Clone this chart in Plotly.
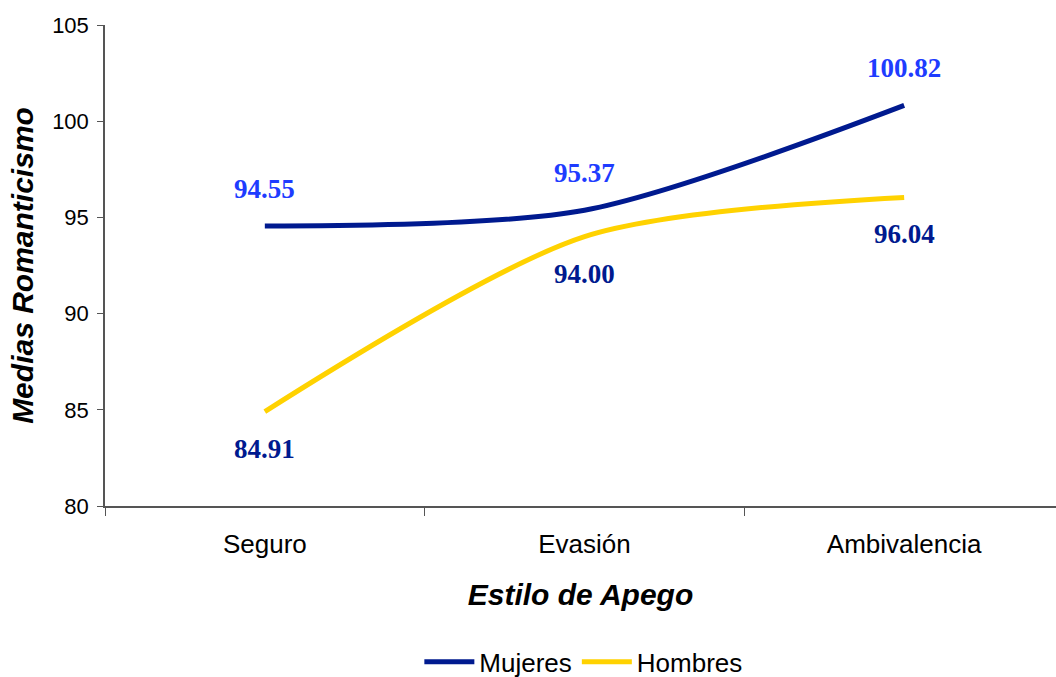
import plotly.graph_objects as go

categories = ["Seguro", "Evasión", "Ambivalencia"]
mujeres = [94.55, 95.37, 100.82]
hombres = [84.91, 94.00, 96.04]
y_ticks = [80, 85, 90, 95, 100, 105]

NAVY = "#001a8f"
LABEL_BLUE = "#1e3cff"
YELLOW = "#ffd200"

fig = go.Figure()
fig.add_trace(go.Scatter(x=categories, y=mujeres, name="Mujeres", mode="lines",
                         line=dict(color=NAVY, width=5, shape="spline", smoothing=0.8)))
fig.add_trace(go.Scatter(x=categories, y=hombres, name="Hombres", mode="lines",
                         line=dict(color=YELLOW, width=5, shape="spline", smoothing=0.8)))

label_font = dict(family="Liberation Serif, Times New Roman, serif", size=27)
for c, v in zip(categories, mujeres):
    fig.add_annotation(x=c, y=v, text=f"<b>{v:.2f}</b>", showarrow=False, yshift=37,
                       font=dict(color=LABEL_BLUE, **label_font))
for c, v in zip(categories, hombres):
    fig.add_annotation(x=c, y=v, text=f"<b>{v:.2f}</b>", showarrow=False, yshift=-37,
                       font=dict(color=NAVY, **label_font))

fig.update_layout(
    width=1056, height=677,
    margin=dict(l=105, r=0, t=25, b=171, autoexpand=False),
    paper_bgcolor="white", plot_bgcolor="white",
    font=dict(family="Liberation Sans, Arial, sans-serif", color="black", size=22),
    showlegend=True,
    legend=dict(orientation="h", x=0.503, xanchor="center", y=-0.324, yanchor="middle",
                font=dict(size=26), itemwidth=50, traceorder="normal"),
    xaxis=dict(type="category", range=[-0.5, 2.475], showline=True, linecolor="#555555",
               linewidth=1.5, ticks="outside", tickson="boundaries", ticklen=8,
               tickcolor="#555555", showgrid=False, zeroline=False,
               tickfont=dict(size=26), ticklabelstandoff=14,
               title=dict(text="<b><i>Estilo de Apego</i></b>", font=dict(size=30), standoff=26)),
    yaxis=dict(range=[80, 105], tickvals=y_ticks, showline=True, linecolor="#555555",
               linewidth=1.5, ticks="outside", ticklen=6, tickcolor="#555555",
               showgrid=False, zeroline=False, tickfont=dict(size=22), ticklabelstandoff=4,
               title=dict(text="<b><i>Medias Romanticismo</i></b>", font=dict(size=30), standoff=10)),
)

fig.write_html("out.html", config={"displayModeBar": False},
               post_script="document.body.style.margin='0';document.body.style.overflow='hidden';")
